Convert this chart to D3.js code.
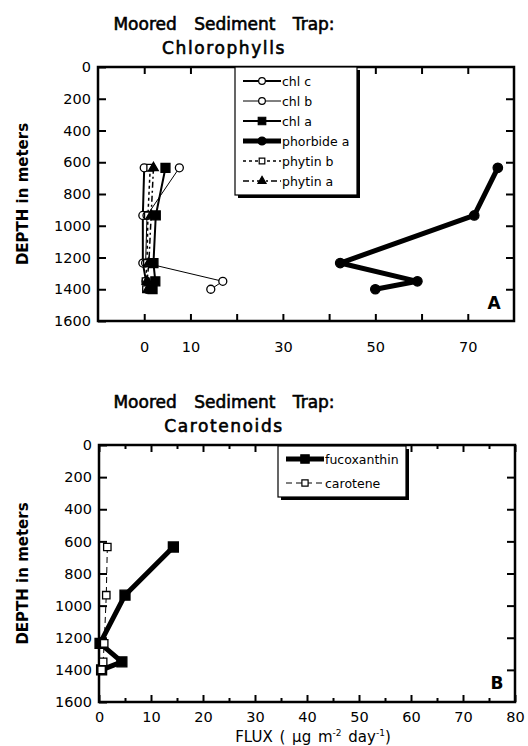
<!DOCTYPE html>
<html>
<head>
<meta charset="utf-8">
<script src="https://cdn.jsdelivr.net/npm/d3@7"></script>
<style>
  body { margin: 0; background: #fff; }
  svg { display: block; font-family: "DejaVu Sans", Verdana, sans-serif; }
</style>
</head>
<body>
<div id="chart"></div>
<script>
// trap depths (m), same for every pigment
const depths = [635, 935, 1235, 1350, 1400];

// panel A: chlorophylls, flux in ug m-2 day-1
const chlC = [0, -0.3, -0.3, 0.4, 0.6];
const chlB = [7.6, 0.6, 0.3, 17.0, 14.4];
const chlA = [4.6, 2.5, 2.0, 2.4, 1.8];
const phorbideA = [76.5, 71.4, 42.4, 59.1, 50.0];
const phytinB = [1.3, 0.8, 0.6, 0.3, 0.4];
const phytinA = [2.0, 1.5, 1.0, 0.6, 0.8];

// panel B: carotenoids
const fucoxanthin = [14.3, 5.0, 0.2, 4.4, 0.5];
const carotene = [1.6, 1.4, 1.0, 0.8, 0.5];

const depthTicks = [0, 200, 400, 600, 800, 1000, 1200, 1400, 1600];
const fluxTicksA = [0, 10, 20, 30, 40, 50, 60, 70];
const fluxLabelsA = [0, 10, 30, 50, 70];
const fluxTicksB = [0, 10, 20, 30, 40, 50, 60, 70, 80];
const fluxMinorB = [5, 15, 25, 35, 45, 55, 65, 75];

const width = 528;
const height = 746;

const svg = d3.select("#chart")
              .append("svg")
              .attr("width", width)
              .attr("height", height);

function drawPanel(p) {
  const x = d3.scaleLinear().domain(p.xDomain).range([p.left, p.right]);
  const y = d3.scaleLinear().domain([0, 1600]).range([p.top, p.bottom]);
  const g = svg.append("g");

  // titles (book weight with a thin outline, looks like the semi-bold original)
  g.append("text")
   .attr("x", 224).attr("y", p.titleY)
   .attr("text-anchor", "middle")
   .style("font-size", "17px")
   .attr("stroke", "#000").attr("stroke-width", 0.6)
   .style("word-spacing", "12px")
   .text("Moored Sediment Trap:");
  g.append("text")
   .attr("x", 224).attr("y", p.titleY + 24)
   .attr("text-anchor", "middle")
   .style("font-size", "17px")
   .attr("stroke", "#000").attr("stroke-width", 0.6)
   .style("letter-spacing", "1.6px")
   .text(p.subtitle);

  // left axis with labels, ticks pointing in
  const yl = g.append("g")
              .attr("transform", `translate(${p.left},0)`)
              .call(d3.axisLeft(y).tickValues(depthTicks).tickSize(-8).tickPadding(7).tickFormat(d3.format("d")));
  const yr = g.append("g")
              .attr("transform", `translate(${p.right},0)`)
              .call(d3.axisRight(y).tickValues(depthTicks.slice(1, -1)).tickSize(-8).tickFormat(""));

  const xt = g.append("g")
              .attr("transform", `translate(0,${p.top})`)
              .call(d3.axisTop(x).tickValues(p.xTicks).tickSize(-7).tickFormat(""));
  const xb = g.append("g")
              .attr("transform", `translate(0,${p.bottom})`)
              .call(d3.axisBottom(x).tickValues(p.xTicks).tickSize(-7)
                      .tickPadding(p.labelPad)
                      .tickFormat(d => p.xLabels.includes(d) ? d : ""));
  const axes = [yl, yr, xt, xb];
  if (p.minor) {
    axes.push(g.append("g")
               .attr("transform", `translate(0,${p.top})`)
               .call(d3.axisTop(x).tickValues(p.minor).tickSize(-4).tickFormat("")));
    axes.push(g.append("g")
               .attr("transform", `translate(0,${p.bottom})`)
               .call(d3.axisBottom(x).tickValues(p.minor).tickSize(-4).tickFormat("")));
  }
  axes.forEach(a => {
    a.select(".domain").remove();
    a.selectAll("line").attr("stroke", "#000").attr("stroke-width", 2);
    a.selectAll("text").style("font-size", "14.5px").style("font-family", "DejaVu Sans").attr("fill", "#000");
  });

  // frame
  g.append("rect")
   .attr("x", p.left).attr("y", p.top)
   .attr("width", p.right - p.left).attr("height", p.bottom - p.top)
   .attr("fill", "none").attr("stroke", "#000").attr("stroke-width", 2.5);

  // y label
  g.append("text")
   .attr("transform", `translate(28,${(p.top + p.bottom) / 2}) rotate(-90)`)
   .attr("text-anchor", "middle")
   .style("font-size", "15px").style("font-weight", "bold")
   .text("DEPTH in meters");

  // series
  const line = d3.line().x(d => x(d[0])).y(d => y(d[1]));
  p.series.forEach(s => {
    const pts = s.values.map((v, i) => [v, depths[i]]);
    g.append("path")
     .datum(pts)
     .attr("d", line)
     .attr("fill", "none")
     .attr("stroke", "#000")
     .attr("stroke-width", s.width)
     .attr("stroke-dasharray", s.dash || null)
     .attr("stroke-linejoin", "round");
    g.selectAll(null)
     .data(pts)
     .enter()
     .append("path")
     .attr("transform", d => `translate(${x(d[0])},${y(d[1])})`)
     .attr("d", d3.symbol().type(s.symbol).size(s.size))
     .attr("fill", s.filled ? "#000" : "#fff")
     .attr("stroke", "#000")
     .attr("stroke-width", 1.3);
  });

  // legend
  const L = p.legend;
  g.append("rect")
   .attr("x", L.x + 3).attr("y", L.y + 3)
   .attr("width", L.w).attr("height", L.h)
   .attr("fill", "#000");
  g.append("rect")
   .attr("x", L.x).attr("y", L.y)
   .attr("width", L.w).attr("height", L.h)
   .attr("fill", "#fff").attr("stroke", "#000").attr("stroke-width", 1.2);
  p.series.forEach((s, i) => {
    const ly = L.y + L.first + i * L.step;
    g.append("line")
     .attr("x1", L.x + L.lineX0).attr("x2", L.x + L.lineX1)
     .attr("y1", ly).attr("y2", ly)
     .attr("stroke", "#000")
     .attr("stroke-width", s.width)
     .attr("stroke-dasharray", s.dash || null);
    g.append("path")
     .attr("transform", `translate(${L.x + (L.lineX0 + L.lineX1) / 2},${ly})`)
     .attr("d", d3.symbol().type(s.symbol).size(s.size * 0.7))
     .attr("fill", s.filled ? "#000" : "#fff")
     .attr("stroke", "#000")
     .attr("stroke-width", 1.2);
    g.append("text")
     .attr("x", L.x + L.lineX1 + 1).attr("y", ly + 4.5)
     .style("font-size", "12.5px")
     .text(s.name);
  });

  // panel letter
  g.append("text")
   .attr("x", p.letterX).attr("y", p.letterY)
   .attr("text-anchor", "middle")
   .style("font-size", "17px").style("font-weight", "bold")
   .text(p.letter);
}

drawPanel({
  subtitle: "Chlorophylls",
  letter: "A",
  letterX: 494, letterY: 309,
  titleY: 30,
  left: 98, right: 514, top: 67, bottom: 321,
  xDomain: [-10, 80],
  xTicks: fluxTicksA,
  xLabels: fluxLabelsA,
  labelPad: 21,
  legend: { x: 235, y: 67, w: 122, h: 128, first: 14, step: 20, lineX0: 8, lineX1: 46 },
  series: [
    { name: "chl c", values: chlC, width: 2, symbol: d3.symbolCircle, size: 50, filled: false },
    { name: "chl b", values: chlB, width: 1, symbol: d3.symbolCircle, size: 50, filled: false },
    { name: "chl a", values: chlA, width: 2, symbol: d3.symbolSquare, size: 80, filled: true },
    { name: "phorbide a", values: phorbideA, width: 5, symbol: d3.symbolCircle, size: 70, filled: true },
    { name: "phytin b", values: phytinB, width: 1.5, dash: "3,3", symbol: d3.symbolSquare, size: 45, filled: false },
    { name: "phytin a", values: phytinA, width: 1.5, dash: "6,3,2,3", symbol: d3.symbolTriangle, size: 40, filled: true }
  ]
});

drawPanel({
  subtitle: "Carotenoids",
  letter: "B",
  letterX: 497, letterY: 689,
  titleY: 408,
  left: 99, right: 515, top: 445, bottom: 702,
  xDomain: [0, 80],
  xTicks: fluxTicksB,
  xLabels: fluxTicksB,
  labelPad: 10,
  minor: fluxMinorB,
  legend: { x: 278, y: 446, w: 128, h: 51, first: 13, step: 24, lineX0: 8, lineX1: 46 },
  series: [
    { name: "fucoxanthin", values: fucoxanthin, width: 5, symbol: d3.symbolSquare, size: 100, filled: true },
    { name: "carotene", values: carotene, width: 1, dash: "6,4", symbol: d3.symbolSquare, size: 55, filled: false }
  ]
});

svg.append("text")
   .attr("x", 313).attr("y", 742)
   .attr("text-anchor", "middle")
   .style("font-size", "15px")
   .style("word-spacing", "2px")
   .html("FLUX (  \u00b5g m<tspan dy='-6' font-size='9'>-2</tspan><tspan dy='6'> day</tspan><tspan dy='-6' font-size='9'>-1</tspan><tspan dy='6'>)</tspan>");
</script>
</body>
</html>
